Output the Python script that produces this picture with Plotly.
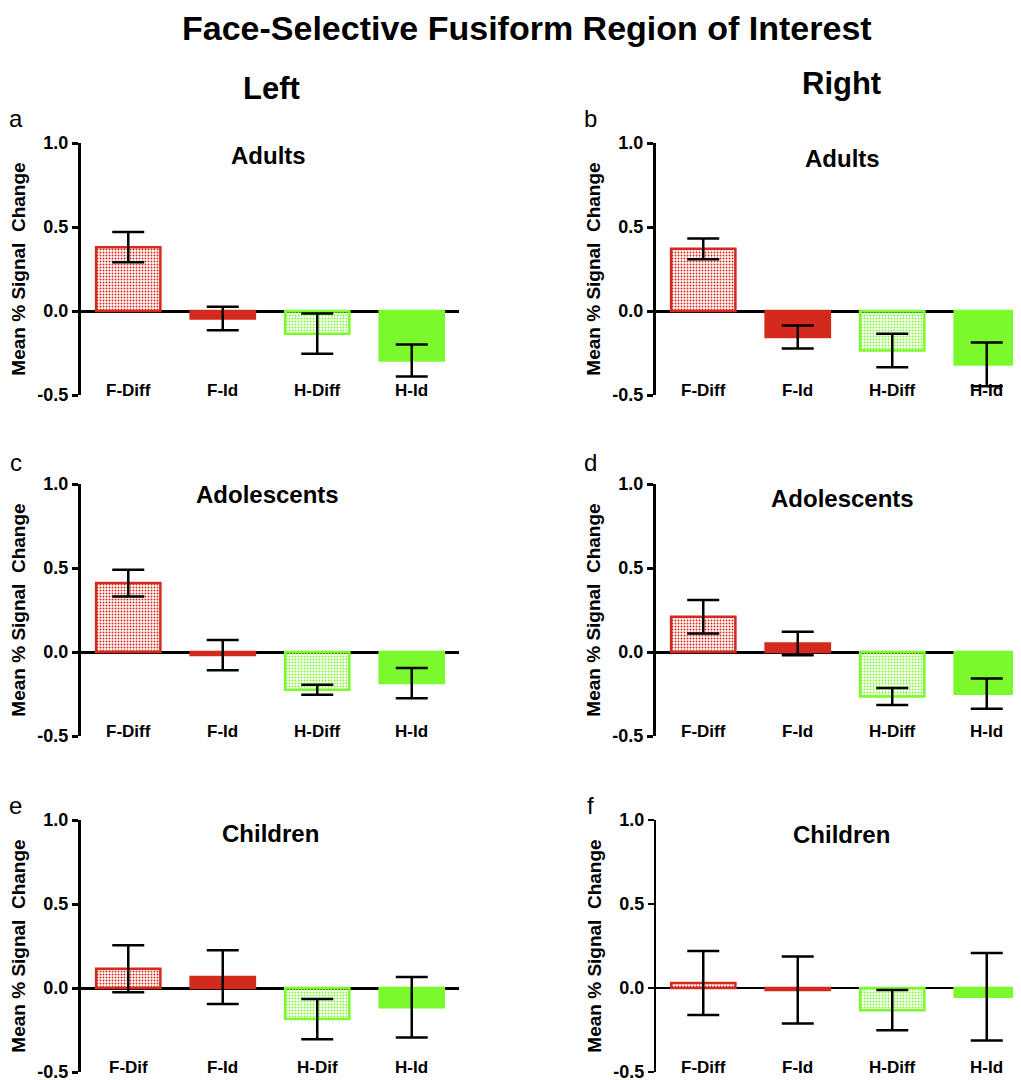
import plotly.graph_objects as go

# The page adds an 8px body margin, so the figure is sized to fill the rest of the window.
OFF = 8
W, H = 1021 - OFF, 1080 - OFF

# ---------------- data ----------------
categories = ["F-Diff", "F-Id", "H-Diff", "H-Id"]
categories_children_left = ["F-Dif", "F-Id", "H-Dif", "H-Id"]

adults_left = [0.38, -0.045, -0.135, -0.295]
adults_left_err = [0.09, 0.07, 0.12, 0.095]
adults_right = [0.37, -0.155, -0.235, -0.318]
adults_right_err = [0.062, 0.068, 0.10, 0.13]

adolescents_left = [0.41, -0.018, -0.225, -0.185]
adolescents_left_err = [0.08, 0.09, 0.03, 0.09]
adolescents_right = [0.21, 0.05, -0.265, -0.248]
adolescents_right_err = [0.10, 0.07, 0.05, 0.09]

children_left = [0.115, 0.065, -0.185, -0.115]
children_left_err = [0.14, 0.16, 0.12, 0.18]
children_right = [0.03, -0.012, -0.132, -0.052]
children_right_err = [0.19, 0.20, 0.12, 0.26]

y_ticks = [-0.5, 0.0, 0.5, 1.0]
y_ticktext = ["-0.5", "0.0", "0.5", "1.0"]

panels = [
    dict(letter="a", group="Adults", cats=categories, vals=adults_left, errs=adults_left_err),
    dict(letter="b", group="Adults", cats=categories, vals=adults_right, errs=adults_right_err),
    dict(letter="c", group="Adolescents", cats=categories, vals=adolescents_left, errs=adolescents_left_err),
    dict(letter="d", group="Adolescents", cats=categories, vals=adolescents_right, errs=adolescents_right_err),
    dict(letter="e", group="Children", cats=categories_children_left, vals=children_left, errs=children_left_err),
    dict(letter="f", group="Children", cats=categories, vals=children_right, errs=children_right_err),
]

# ---------------- styling / layout ----------------
RED = "#D42A1E"
GREEN = "#7CF92C"
FONT = "Liberation Sans, Arial, sans-serif"

unit_px = 94.5
col_x = [(81, 459), (656, 1021)]
row_y = [(143, 395), (484, 736), (820, 1072)]
sub_pos = [(268, 155), (842, 158), (267, 494), (842, 499), (270, 833), (841, 834)]
letter_pos = [(16, 118), (590, 118), (16, 462), (590, 462), (16, 805), (590, 805)]


def px(x):
    return (x - OFF) / W


def py(y):
    return 1 - (y - OFF) / H


fig = go.Figure()
annotations = []

for k, p in enumerate(panels):
    n = k + 1
    col = k % 2
    row = k // 2
    xa = "x" if n == 1 else f"x{n}"
    ya = "y" if n == 1 else f"y{n}"
    xkey = "xaxis" if n == 1 else f"xaxis{n}"
    ykey = "yaxis" if n == 1 else f"yaxis{n}"

    colors = [RED, RED, GREEN, GREEN]
    shapes = [".", "", ".", ""]
    xs = list(range(len(p["cats"])))
    fig.add_trace(go.Bar(
        x=xs, y=p["vals"], width=0.68,
        marker=dict(
            color=colors,
            line=dict(color=colors, width=2.5),
            pattern=dict(shape=shapes, fgcolor="white", bgcolor=colors,
                         size=3, solidity=0.35, fillmode="replace"),
        ),
        error_y=dict(type="data", array=p["errs"], color="black",
                     thickness=2.5, width=16),
        xaxis=xa, yaxis=ya, showlegend=False, hoverinfo="skip",
    ))

    x0, x1 = col_x[col]
    y0, y1 = row_y[row]
    lw = 2 if p["letter"] == "f" else 3
    xmax = -0.5 + (x1 - x0) / unit_px
    fig.update_layout({
        xkey: dict(domain=[px(x0), min(1.0, px(x1))], range=[-0.5, xmax], anchor=ya,
                   showline=False, showticklabels=False, showgrid=False,
                   zeroline=False, ticks="", fixedrange=True),
        ykey: dict(domain=[py(y1), py(y0)], range=[-0.5, 1.0], anchor=xa,
                   showline=True, linecolor="black", linewidth=lw,
                   ticks="outside", ticklen=6, tickwidth=lw, tickcolor="black",
                   tickvals=y_ticks, ticktext=y_ticktext,
                   ticklabeloverflow="allow",
                   tickfont=dict(family=FONT, size=18, color="black", weight="bold"),
                   showgrid=False, zeroline=True, zerolinecolor="black",
                   zerolinewidth=lw, automargin=False,
                   title=dict(text="Mean % Signal  Change", standoff=7,
                              font=dict(family=FONT, size=19, color="black", weight="bold"))),
    })

    # category labels
    for i, c in enumerate(p["cats"]):
        annotations.append(dict(
            x=i, y=-0.5, xref=xa, yref=ya, text=c, showarrow=False,
            yanchor="middle", yshift=5,
            font=dict(family=FONT, size=17, color="black", weight="bold"),
        ))
    # subplot group title
    sx, sy = sub_pos[k]
    annotations.append(dict(
        x=px(sx), y=py(sy), xref="paper", yref="paper", text=p["group"],
        showarrow=False, xanchor="center", yanchor="middle",
        font=dict(family=FONT, size=24, color="black", weight="bold"),
    ))
    lx, ly = letter_pos[k]
    annotations.append(dict(
        x=px(lx), y=py(ly), xref="paper", yref="paper", text=p["letter"],
        showarrow=False, xanchor="center", yanchor="middle",
        font=dict(family=FONT, size=24, color="black"),
    ))

annotations.append(dict(
    x=px(527), y=py(28), xref="paper", yref="paper",
    text="Face-Selective Fusiform Region of Interest", showarrow=False,
    xanchor="center", yanchor="middle",
    font=dict(family=FONT, size=34, color="black", weight="bold"),
))
annotations.append(dict(
    x=px(271), y=py(88), xref="paper", yref="paper", text="Left", showarrow=False,
    xanchor="center", yanchor="middle",
    font=dict(family=FONT, size=31, color="black", weight="bold"),
))
annotations.append(dict(
    x=px(841), y=py(83), xref="paper", yref="paper", text="Right", showarrow=False,
    xanchor="center", yanchor="middle",
    font=dict(family=FONT, size=31, color="black", weight="bold"),
))

fig.update_layout(
    width=W, height=H,
    margin=dict(l=0, r=0, t=0, b=0),
    paper_bgcolor="white", plot_bgcolor="white",
    annotations=annotations,
    bargap=0.3,
    font=dict(family=FONT, color="black"),
)

fig.write_html("out.html")
